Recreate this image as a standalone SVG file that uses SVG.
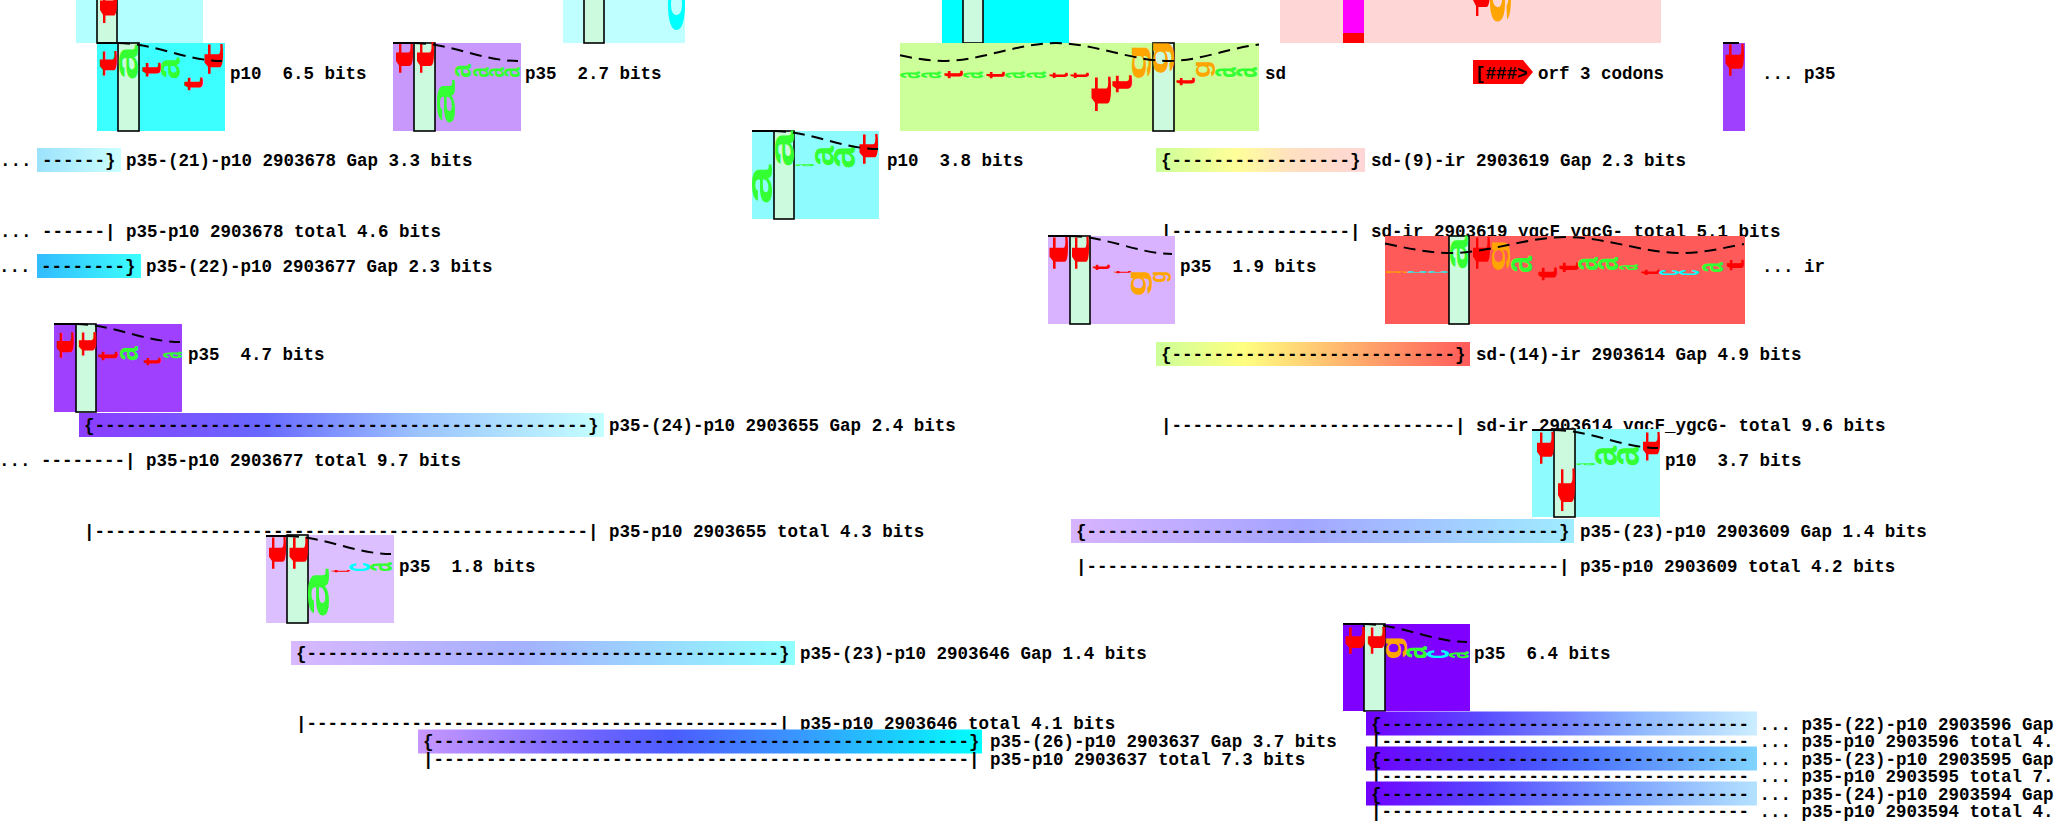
<svg xmlns="http://www.w3.org/2000/svg" xmlns:xlink="http://www.w3.org/1999/xlink" width="2057" height="825" viewBox="0 0 2057 825" xml:space="preserve">
<style>
.t{font-family:"Liberation Mono",monospace;font-weight:bold;font-size:17.5px;fill:#000;white-space:pre}
.bar{fill:#ccfadf;stroke:#000;stroke-width:1.6}
.crv{fill:none;stroke:#000;stroke-width:2;stroke-dasharray:12 7}
.ln{fill:none;stroke:#000;stroke-width:2}
.lg{font-family:"Liberation Sans",Arial,sans-serif;font-weight:bold;font-size:100px}
</style>
<defs>
<text id="gt" class="lg" fill="#ff0000" transform="translate(0.979,1.069) rotate(-90) scale(0.03448,0.01399)">t</text>
<text id="ga" class="lg" fill="#33ff33" transform="translate(0.974,1.069) rotate(-90) scale(0.02037,0.01838)">a</text>
<text id="gc" class="lg" fill="#00ffff" transform="translate(0.974,1.080) rotate(-90) scale(0.02062,0.01838)">c</text>
<text id="gg" class="lg" fill="#ffa500" transform="translate(0.716,1.070) rotate(-90) scale(0.01942,0.01351)">g</text>
<linearGradient id="gr2L"><stop offset="0" stop-color="#9ce2fc"/><stop offset="1" stop-color="#ccffff"/></linearGradient>
<linearGradient id="gr2R"><stop offset="0" stop-color="#ccff99"/><stop offset="0.38" stop-color="#ffff99"/><stop offset="0.65" stop-color="#ffe0c0"/><stop offset="1" stop-color="#ffd6d6"/></linearGradient>
<linearGradient id="gr4L"><stop offset="0" stop-color="#33bbff"/><stop offset="1" stop-color="#3cffff"/></linearGradient>
<linearGradient id="gr5R"><stop offset="0" stop-color="#ccff99"/><stop offset="0.28" stop-color="#ffff80"/><stop offset="0.55" stop-color="#ffc070"/><stop offset="1" stop-color="#ff5a5a"/></linearGradient>
<linearGradient id="gr6L"><stop offset="0" stop-color="#8c3cff"/><stop offset="0.35" stop-color="#6868ff"/><stop offset="0.65" stop-color="#9cc4ff"/><stop offset="1" stop-color="#c4ffff"/></linearGradient>
<linearGradient id="gr8R"><stop offset="0" stop-color="#d8b4ff"/><stop offset="0.45" stop-color="#a4a4ff"/><stop offset="1" stop-color="#a0ecff"/></linearGradient>
<linearGradient id="gr10L"><stop offset="0" stop-color="#d8b8ff"/><stop offset="0.45" stop-color="#a4b0ff"/><stop offset="1" stop-color="#90ffff"/></linearGradient>
<linearGradient id="gr12L"><stop offset="0" stop-color="#c898ff"/><stop offset="0.3" stop-color="#7064ff"/><stop offset="0.45" stop-color="#4c5cff"/><stop offset="0.65" stop-color="#3c90ff"/><stop offset="1" stop-color="#00ffff"/></linearGradient>
<linearGradient id="gb1"><stop offset="0" stop-color="#7000ff"/><stop offset="0.3" stop-color="#5a4cff"/><stop offset="0.7" stop-color="#90b8ff"/><stop offset="1" stop-color="#cceeff"/></linearGradient>
<linearGradient id="gb3"><stop offset="0" stop-color="#7000ff"/><stop offset="0.35" stop-color="#4840ff"/><stop offset="0.55" stop-color="#4a70ff"/><stop offset="1" stop-color="#80d4ff"/></linearGradient>
<linearGradient id="gb5"><stop offset="0" stop-color="#7000ff"/><stop offset="0.3" stop-color="#5648ff"/><stop offset="0.65" stop-color="#7aa0ff"/><stop offset="1" stop-color="#b4e2ff"/></linearGradient>
</defs>

<g id="topA">
<rect x="76" y="0" width="127" height="43" fill="#b3ffff"/>
<rect class="bar" x="97" y="-2" width="20" height="45"/>
<use xlink:href="#gt" transform="translate(99,-10) scale(18,32)"/>
</g>
<g id="topB">
<rect x="563" y="0" width="122" height="43" fill="#bfffff"/>
<rect class="bar" x="584" y="-2" width="20" height="45"/>
<use xlink:href="#gc" transform="translate(668,-20) scale(17,50)"/>
</g>
<g id="topC">
<rect x="942" y="0" width="127" height="43" fill="#00ffff"/>
<rect class="bar" x="963" y="-2" width="20" height="45"/>
</g>
<g id="topD">
<rect x="1280" y="0" width="381" height="43" fill="#ffd6d6"/>
<rect x="1343" y="0" width="21" height="34" fill="#ff00ff"/>
<rect x="1343" y="33" width="21" height="10" fill="#ff0000"/>
<use xlink:href="#gt" transform="translate(1471,-25) scale(19,40)"/>
<use xlink:href="#gg" transform="translate(1490,-30) scale(21,52)"/>
</g>

<g id="p10_65">
<rect x="97" y="43" width="128" height="88" fill="#3cffff"/>
<rect class="bar" x="118" y="43" width="21" height="88"/>
<use xlink:href="#gt" transform="translate(99,52) scale(18,23)"/>
<use xlink:href="#ga" transform="translate(119,47) scale(19,31)"/>
<use xlink:href="#gt" transform="translate(141,63) scale(20,13)"/>
<use xlink:href="#ga" transform="translate(161,59) scale(19,19)"/>
<use xlink:href="#gt" transform="translate(183,78) scale(20,12)"/>
<use xlink:href="#gt" transform="translate(203,45) scale(20,28)"/>
<path class="ln" d="M97,43H118"/>
<path class="crv" d="M118,43C153,43 187,61 222,61"/>
<text class="t" x="230" y="79">p10  6.5 bits</text>
</g>
<g id="p35_27">
<rect x="393" y="43" width="128" height="88" fill="#c898fc"/>
<rect class="bar" x="414" y="43" width="21" height="88"/>
<use xlink:href="#gt" transform="translate(394,43) scale(19,29)"/>
<use xlink:href="#gt" transform="translate(415,43) scale(19,29)"/>
<use xlink:href="#ga" transform="translate(437,83) scale(18,39)"/>
<use xlink:href="#ga" transform="translate(455,65) scale(16,12)"/>
<use xlink:href="#ga" transform="translate(473,68) scale(16,9)"/>
<use xlink:href="#ga" transform="translate(489,68) scale(15,9)"/>
<use xlink:href="#ga" transform="translate(504,68) scale(16,9)"/>
<path class="ln" d="M393,43H414"/>
<path class="crv" d="M414,43C449,43 483,61 518,61"/>
<text class="t" x="525" y="79">p35  2.7 bits</text>
</g>
<g id="sd">
<rect x="900" y="43" width="359" height="88" fill="#ccff99"/>
<rect class="bar" x="1153" y="43" width="21" height="88"/>
<use xlink:href="#ga" transform="translate(901,72) scale(20,6)"/>
<use xlink:href="#ga" transform="translate(922,72) scale(20,6)"/>
<use xlink:href="#gt" transform="translate(943,71) scale(20,7)"/>
<use xlink:href="#ga" transform="translate(964,72) scale(20,6)"/>
<use xlink:href="#gt" transform="translate(985,72) scale(20,6)"/>
<use xlink:href="#ga" transform="translate(1006,72) scale(20,6)"/>
<use xlink:href="#ga" transform="translate(1027,72) scale(20,6)"/>
<use xlink:href="#gt" transform="translate(1048,73) scale(20,5)"/>
<use xlink:href="#gt" transform="translate(1069,73) scale(20,5)"/>
<use xlink:href="#gt" transform="translate(1090,78) scale(21,32)"/>
<use xlink:href="#gt" transform="translate(1111,76) scale(21,16)"/>
<use xlink:href="#gg" transform="translate(1132,47) scale(19,31)"/>
<use xlink:href="#gg" transform="translate(1153,43) scale(21,30)"/>
<use xlink:href="#gt" transform="translate(1175,78) scale(20,7)"/>
<use xlink:href="#gg" transform="translate(1196,62) scale(19,15)"/>
<use xlink:href="#ga" transform="translate(1216,68) scale(21,9)"/>
<use xlink:href="#ga" transform="translate(1237,68) scale(21,9)"/>
<path class="crv" d="M900,55.3C915,58.5 930,61 943,61C980.7,61 1018.3,43 1056,43C1093.7,43 1131.3,61 1169,61C1199,61 1229,48 1259,44.5"/>
<text class="t" x="1265" y="79">sd</text>
</g>
<g id="orf">
<polygon points="1473,60 1523,60 1533,72 1523,84 1473,84" fill="#ff0000"/>
<text class="t" x="1475" y="79">[###&gt; orf 3 codons</text>
</g>
<g id="p35_right">
<rect x="1723" y="43" width="22" height="88" fill="#a040ff"/>
<use xlink:href="#gt" transform="translate(1724,45) scale(20,30)"/>
<path class="ln" d="M1723,43H1739"/>
<text class="t" x="1762" y="79">... p35</text>
</g>

<g id="p10_38">
<rect x="752" y="131" width="127" height="88" fill="#8efcff"/>
<rect class="bar" x="774" y="131" width="20" height="88"/>
<use xlink:href="#ga" transform="translate(753,167) scale(20,35)"/>
<use xlink:href="#ga" transform="translate(775,133) scale(19,32)"/>
<use xlink:href="#ga" transform="translate(795,164) scale(19,2)"/>
<use xlink:href="#ga" transform="translate(815,147) scale(19,18)"/>
<use xlink:href="#ga" transform="translate(835,147) scale(21,20)"/>
<use xlink:href="#gt" transform="translate(858,135) scale(20,28)"/>
<path class="ln" d="M752,131H774"/>
<path class="crv" d="M774,131C809,131 843,149 878,149"/>
<text class="t" x="887" y="166">p10  3.8 bits</text>
</g>
<g id="gap21">
<rect x="37" y="148" width="84" height="24" fill="url(#gr2L)"/>
<text class="t" x="0" y="166">... ------} p35-(21)-p10 2903678 Gap 3.3 bits</text>
</g>
<g id="gap9">
<rect x="1156" y="148" width="209" height="24" fill="url(#gr2R)"/>
<text class="t" x="1161" y="166">{-----------------} sd-(9)-ir 2903619 Gap 2.3 bits</text>
</g>
<g id="tot2903678">
<text class="t" x="0" y="237">... ------| p35-p10 2903678 total 4.6 bits</text>
</g>
<g id="tot2903619">
<text class="t" x="1161" y="237">|-----------------| sd-ir 2903619 ygcF_ygcG- total 5.1 bits</text>
</g>

<g id="p35_19">
<rect x="1048" y="236" width="127" height="88" fill="#d9b3ff"/>
<rect class="bar" x="1070" y="236" width="20" height="88"/>
<use xlink:href="#gt" transform="translate(1048,238) scale(20,30)"/>
<use xlink:href="#gt" transform="translate(1070,238) scale(19,30)"/>
<use xlink:href="#gt" transform="translate(1091,265) scale(19,5)"/>
<use xlink:href="#gt" transform="translate(1112,271) scale(19,2)"/>
<use xlink:href="#gg" transform="translate(1132,272) scale(20,23)"/>
<use xlink:href="#gg" transform="translate(1153,272) scale(18,10)"/>
<path class="ln" d="M1048,236H1070"/>
<path class="crv" d="M1070,236C1105,236 1139,254 1172,254"/>
<text class="t" x="1180" y="272">p35  1.9 bits</text>
</g>
<g id="ir">
<rect x="1385" y="236" width="360" height="88" fill="#ff5a5a"/>
<rect class="bar" x="1449" y="236" width="20" height="88"/>
<use xlink:href="#gg" transform="translate(1387,271) scale(20,2)"/>
<use xlink:href="#gc" transform="translate(1408,271) scale(20,2)"/>
<use xlink:href="#gc" transform="translate(1429,271) scale(20,2)"/>
<use xlink:href="#ga" transform="translate(1450,238) scale(18,30)"/>
<use xlink:href="#gt" transform="translate(1471,238) scale(19,30)"/>
<use xlink:href="#gg" transform="translate(1492,242) scale(18,28)"/>
<use xlink:href="#ga" transform="translate(1512,257) scale(21,15)"/>
<use xlink:href="#gt" transform="translate(1537,268) scale(20,12)"/>
<use xlink:href="#gt" transform="translate(1558,263) scale(21,9)"/>
<use xlink:href="#ga" transform="translate(1579,258) scale(20,12)"/>
<use xlink:href="#ga" transform="translate(1599,258) scale(20,12)"/>
<use xlink:href="#ga" transform="translate(1619,265) scale(19,5)"/>
<use xlink:href="#gt" transform="translate(1640,270) scale(20,5)"/>
<use xlink:href="#gc" transform="translate(1660,270) scale(20,5)"/>
<use xlink:href="#gc" transform="translate(1680,270) scale(20,5)"/>
<use xlink:href="#ga" transform="translate(1703,263) scale(21,9)"/>
<use xlink:href="#gt" transform="translate(1725,260) scale(19,10)"/>
<path class="crv" d="M1385,243.5C1407,248 1428,253 1450,253C1489,253 1527,237 1566,237C1605,237 1643,253 1682,253C1703,253 1723,248 1744,244"/>
<text class="t" x="1762" y="272">... ir</text>
</g>
<g id="gap22">
<rect x="37" y="254" width="104" height="24" fill="url(#gr4L)"/>
<text class="t" x="-1" y="272">... --------} p35-(22)-p10 2903677 Gap 2.3 bits</text>
</g>

<g id="p35_47">
<rect x="54" y="324" width="128" height="88" fill="#a040ff"/>
<rect class="bar" x="76" y="324" width="20" height="88"/>
<use xlink:href="#gt" transform="translate(56,333) scale(18,24)"/>
<use xlink:href="#gt" transform="translate(77,333) scale(19,22)"/>
<use xlink:href="#gt" transform="translate(97,352) scale(21,8)"/>
<use xlink:href="#ga" transform="translate(120,347) scale(18,13)"/>
<use xlink:href="#gt" transform="translate(142,358) scale(19,7)"/>
<use xlink:href="#ga" transform="translate(163,352) scale(19,6)"/>
<path class="ln" d="M54,324H76"/>
<path class="crv" d="M76,324C111,324 145,342 180,342"/>
<text class="t" x="188" y="360">p35  4.7 bits</text>
</g>
<g id="gap14">
<rect x="1156" y="342" width="314" height="24" fill="url(#gr5R)"/>
<text class="t" x="1161" y="360">{---------------------------} sd-(14)-ir 2903614 Gap 4.9 bits</text>
</g>
<g id="gap24">
<rect x="79" y="413" width="525" height="24" fill="url(#gr6L)"/>
<text class="t" x="84" y="431">{-----------------------------------------------} p35-(24)-p10 2903655 Gap 2.4 bits</text>
</g>
<g id="tot2903614">
<text class="t" x="1161" y="431">|---------------------------| sd-ir 2903614 ygcF_ygcG- total 9.6 bits</text>
</g>

<g id="p10_37">
<rect x="1532" y="429" width="128" height="88" fill="#8efcff"/>
<rect class="bar" x="1554" y="429" width="21" height="88"/>
<use xlink:href="#gt" transform="translate(1535,433) scale(19,30)"/>
<use xlink:href="#gt" transform="translate(1556,470) scale(19,40)"/>
<use xlink:href="#ga" transform="translate(1576,463) scale(19,2)"/>
<use xlink:href="#ga" transform="translate(1596,447) scale(22,18)"/>
<use xlink:href="#ga" transform="translate(1618,447) scale(22,18)"/>
<use xlink:href="#gt" transform="translate(1641,433) scale(19,27)"/>
<path class="ln" d="M1532,430H1554"/>
<path class="crv" d="M1554,430C1589,430 1623,448 1658,448"/>
<text class="t" x="1665" y="466">p10  3.7 bits</text>
</g>
<g id="tot2903677">
<text class="t" x="-1" y="466">... --------| p35-p10 2903677 total 9.7 bits</text>
</g>
<g id="tot2903655">
<text class="t" x="84" y="537">|-----------------------------------------------| p35-p10 2903655 total 4.3 bits</text>
</g>
<g id="gap23a">
<rect x="1071" y="519" width="503" height="24" fill="url(#gr8R)"/>
<text class="t" x="1076" y="537">{---------------------------------------------} p35-(23)-p10 2903609 Gap 1.4 bits</text>
</g>

<g id="p35_18">
<rect x="266" y="535" width="128" height="88" fill="#dcbfff"/>
<rect class="bar" x="287" y="535" width="21" height="88"/>
<use xlink:href="#gt" transform="translate(268,538) scale(18,30)"/>
<use xlink:href="#gt" transform="translate(288,538) scale(20,30)"/>
<use xlink:href="#ga" transform="translate(309,572) scale(21,43)"/>
<use xlink:href="#gt" transform="translate(330,570) scale(20,2)"/>
<use xlink:href="#gc" transform="translate(350,563) scale(21,8)"/>
<use xlink:href="#ga" transform="translate(371,563) scale(22,8)"/>
<path class="ln" d="M266,536H287"/>
<path class="crv" d="M287,536C322,536 356,554 391,554"/>
<text class="t" x="399" y="572">p35  1.8 bits</text>
</g>
<g id="tot2903609">
<text class="t" x="1076" y="572">|---------------------------------------------| p35-p10 2903609 total 4.2 bits</text>
</g>

<g id="p35_64">
<rect x="1343" y="624" width="127" height="87" fill="#8000ff"/>
<rect class="bar" x="1364" y="624" width="21" height="87"/>
<use xlink:href="#gt" transform="translate(1344,628) scale(21,25)"/>
<use xlink:href="#gt" transform="translate(1366,628) scale(19,25)"/>
<use xlink:href="#gg" transform="translate(1386,638) scale(21,20)"/>
<use xlink:href="#ga" transform="translate(1407,647) scale(21,11)"/>
<use xlink:href="#gc" transform="translate(1428,650) scale(22,8)"/>
<use xlink:href="#ga" transform="translate(1450,652) scale(20,6)"/>
<path class="ln" d="M1343,624H1364"/>
<path class="crv" d="M1364,624C1399,624 1433,642 1467,642"/>
<text class="t" x="1474" y="659">p35  6.4 bits</text>
</g>
<g id="gap23b">
<rect x="291" y="641" width="504" height="24" fill="url(#gr10L)"/>
<text class="t" x="296" y="659">{---------------------------------------------} p35-(23)-p10 2903646 Gap 1.4 bits</text>
</g>

<g id="stack2903596">
<rect x="1366" y="711.5" width="391" height="24" fill="url(#gb1)"/>
<text class="t" x="1371" y="729.5">{----------------------------------- ... p35-(22)-p10 2903596 Gap</text>
<text class="t" x="1371" y="747">|----------------------------------- ... p35-p10 2903596 total 4.</text>
</g>
<g id="tot2903646">
<text class="t" x="296" y="729">|---------------------------------------------| p35-p10 2903646 total 4.1 bits</text>
</g>
<g id="gap26">
<rect x="418" y="729.5" width="564" height="24" fill="url(#gr12L)"/>
<text class="t" x="423" y="747">{---------------------------------------------------} p35-(26)-p10 2903637 Gap 3.7 bits</text>
</g>
<g id="tot2903637">
<text class="t" x="423" y="765">|---------------------------------------------------| p35-p10 2903637 total 7.3 bits</text>
</g>
<g id="stack2903595">
<rect x="1366" y="746.5" width="391" height="24" fill="url(#gb3)"/>
<text class="t" x="1371" y="764.5">{----------------------------------- ... p35-(23)-p10 2903595 Gap</text>
<text class="t" x="1371" y="782">|----------------------------------- ... p35-p10 2903595 total 7.</text>
</g>
<g id="stack2903594">
<rect x="1366" y="781.5" width="391" height="24" fill="url(#gb5)"/>
<text class="t" x="1371" y="799.5">{----------------------------------- ... p35-(24)-p10 2903594 Gap</text>
<text class="t" x="1371" y="817">|----------------------------------- ... p35-p10 2903594 total 4.</text>
</g>
</svg>
